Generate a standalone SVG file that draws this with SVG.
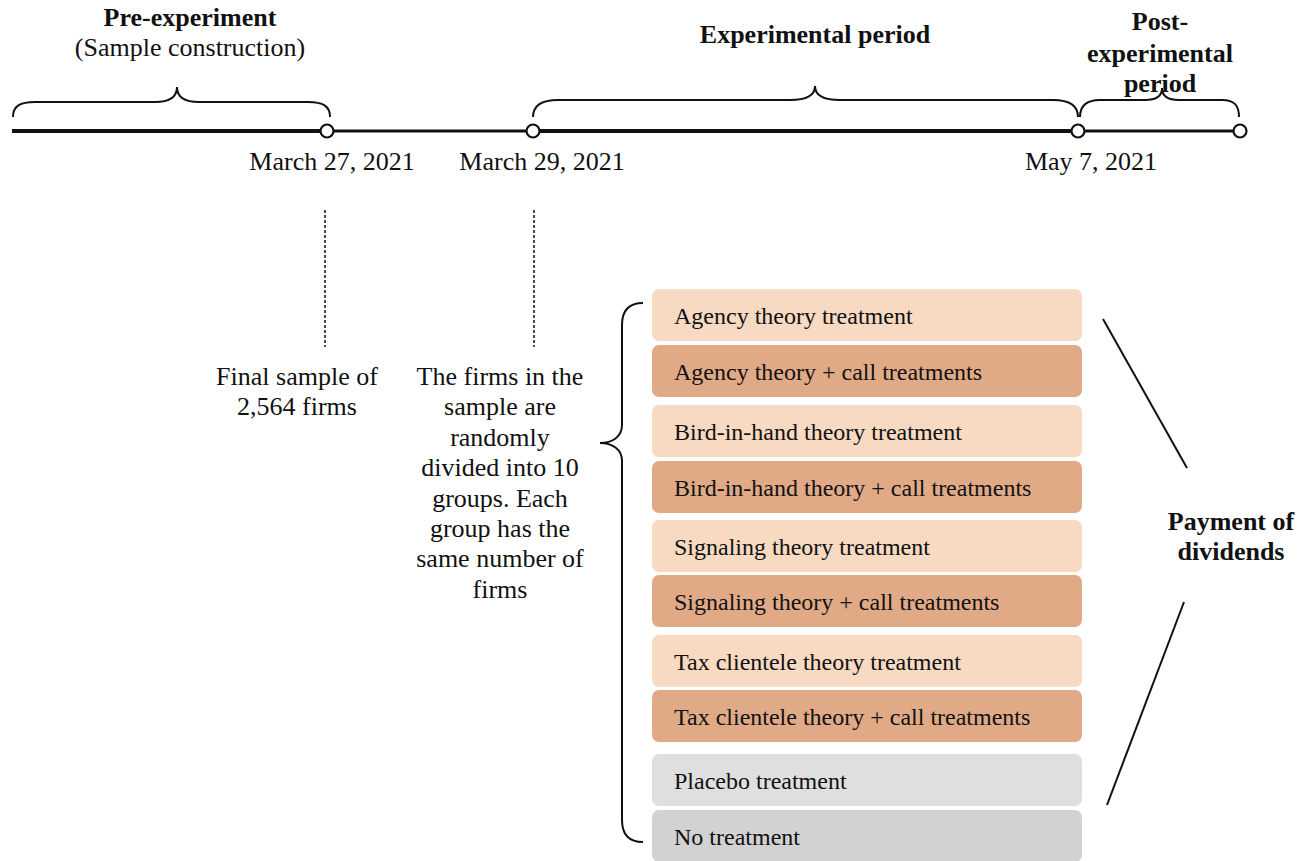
<svg xmlns="http://www.w3.org/2000/svg" width="1316" height="861" viewBox="0 0 1316 861">
<style>
  text { font-family: "Liberation Serif", "Times New Roman", serif; fill: #111; }
  .t26 { font-size: 26px; }
  .b26 { font-size: 26px; font-weight: bold; }
  .box text { font-size: 24px; }
  .c { text-anchor: middle; }
  .brace { fill: none; stroke: #111; stroke-width: 2; }
  .light { fill: #F8D9C1; }
  .dark { fill: #E1AA87; }
  .placebo { fill: #DFDFDF; }
  .none { fill: #D2D2D2; }
  .dash { stroke: #111; stroke-width: 1.5; stroke-dasharray: 3 2; }
  .pt { fill: #fff; stroke: #111; stroke-width: 2.2; }
</style>

<g id="timeline">
  <line x1="12" y1="131" x2="327" y2="131" stroke="#111" stroke-width="4"/>
  <line x1="327" y1="131" x2="533" y2="131" stroke="#111" stroke-width="2.8"/>
  <line x1="533" y1="131" x2="1078" y2="131" stroke="#111" stroke-width="4"/>
  <line x1="1078" y1="131" x2="1240" y2="131" stroke="#111" stroke-width="3"/>
  <circle class="pt" cx="327" cy="131" r="6.5"/>
  <circle class="pt" cx="533" cy="131" r="6.5"/>
  <circle class="pt" cx="1078" cy="131" r="6.5"/>
  <circle class="pt" cx="1240" cy="131" r="6.5"/>
  <text class="t26 c" x="332" y="170">March 27, 2021</text>
  <text class="t26 c" x="542" y="170">March 29, 2021</text>
  <text class="t26 c" x="1091" y="170">May 7, 2021</text>
</g>

<g id="pre-experiment">
  <path class="brace" d="M 13 117 C 13 106, 20 102, 35 102 L 155 102 C 168 102, 177 98, 177 87 C 177 98, 186 102, 199 102 L 308 102 C 323 102, 330 106, 330 117"/>
  <text class="b26 c" x="190" y="26">Pre-experiment</text>
  <text class="t26 c" x="190" y="56">(Sample construction)</text>
</g>

<g id="experimental-period">
  <path class="brace" d="M 533 117 C 533 106, 540 100, 558 100 L 790 100 C 805 100, 815 96, 815 86 C 815 96, 825 100, 840 100 L 1053 100 C 1071 100, 1078 106, 1078 117"/>
  <text class="b26 c" x="815" y="43">Experimental period</text>
</g>

<g id="post-experimental">
  <text class="b26 c" x="1160" y="30">Post-</text>
  <text class="b26 c" x="1160" y="62">experimental</text>
  <text class="b26 c" x="1160" y="92">period</text>
  <path class="brace" d="M 1080 117 C 1080 106, 1087 100, 1100 100 L 1145 100 C 1156 100, 1162 96, 1162 88 C 1162 96, 1168 100, 1179 100 L 1222 100 C 1235 100, 1239 106, 1239 117"/>
</g>

<g id="connectors">
  <line class="dash" x1="325" y1="210" x2="325" y2="347"/>
  <line class="dash" x1="534" y1="210" x2="534" y2="347"/>
  <path class="brace" d="M 643 303 C 630 303, 622 310, 622 325 L 622 425 C 622 437, 612 443, 600 443 C 612 443, 622 449, 622 461 L 622 820 C 622 835, 630 842, 643 842"/>
  <line x1="1103" y1="319" x2="1187" y2="468" stroke="#111" stroke-width="2"/>
  <line x1="1184" y1="602" x2="1107" y2="805" stroke="#111" stroke-width="2"/>
</g>

<g id="final-sample">
  <text class="t26 c" x="297" y="385">Final sample of</text>
  <text class="t26 c" x="297" y="415">2,564 firms</text>
</g>

<g id="random-division">
  <text class="t26 c" x="500" y="385">The firms in the</text>
  <text class="t26 c" x="500" y="415.4">sample are</text>
  <text class="t26 c" x="500" y="445.8">randomly</text>
  <text class="t26 c" x="500" y="476.2">divided into 10</text>
  <text class="t26 c" x="500" y="506.6">groups. Each</text>
  <text class="t26 c" x="500" y="537">group has the</text>
  <text class="t26 c" x="500" y="567.4">same number of</text>
  <text class="t26 c" x="500" y="597.8">firms</text>
</g>

<g id="box-agency" class="box">
  <rect class="light" x="652" y="289" width="430" height="52" rx="7"/>
  <text x="674" y="324">Agency theory treatment</text>
</g>
<g id="box-agency-call" class="box">
  <rect class="dark" x="652" y="345" width="430" height="52" rx="7"/>
  <text x="674" y="380">Agency theory + call treatments</text>
</g>
<g id="box-bird" class="box">
  <rect class="light" x="652" y="405" width="430" height="52" rx="7"/>
  <text x="674" y="440">Bird-in-hand theory treatment</text>
</g>
<g id="box-bird-call" class="box">
  <rect class="dark" x="652" y="461" width="430" height="52" rx="7"/>
  <text x="674" y="496">Bird-in-hand theory + call treatments</text>
</g>
<g id="box-signaling" class="box">
  <rect class="light" x="652" y="520" width="430" height="52" rx="7"/>
  <text x="674" y="555">Signaling theory treatment</text>
</g>
<g id="box-signaling-call" class="box">
  <rect class="dark" x="652" y="575" width="430" height="52" rx="7"/>
  <text x="674" y="610">Signaling theory + call treatments</text>
</g>
<g id="box-tax" class="box">
  <rect class="light" x="652" y="635" width="430" height="52" rx="7"/>
  <text x="674" y="670">Tax clientele theory treatment</text>
</g>
<g id="box-tax-call" class="box">
  <rect class="dark" x="652" y="690" width="430" height="52" rx="7"/>
  <text x="674" y="725">Tax clientele theory + call treatments</text>
</g>
<g id="box-placebo" class="box">
  <rect class="placebo" x="652" y="754" width="430" height="52" rx="7"/>
  <text x="674" y="789">Placebo treatment</text>
</g>
<g id="box-none" class="box">
  <rect class="none" x="652" y="810" width="430" height="52" rx="7"/>
  <text x="674" y="845">No treatment</text>
</g>

<g id="payment">
  <text class="b26 c" x="1231" y="530">Payment of</text>
  <text class="b26 c" x="1231" y="560">dividends</text>
</g>
</svg>
